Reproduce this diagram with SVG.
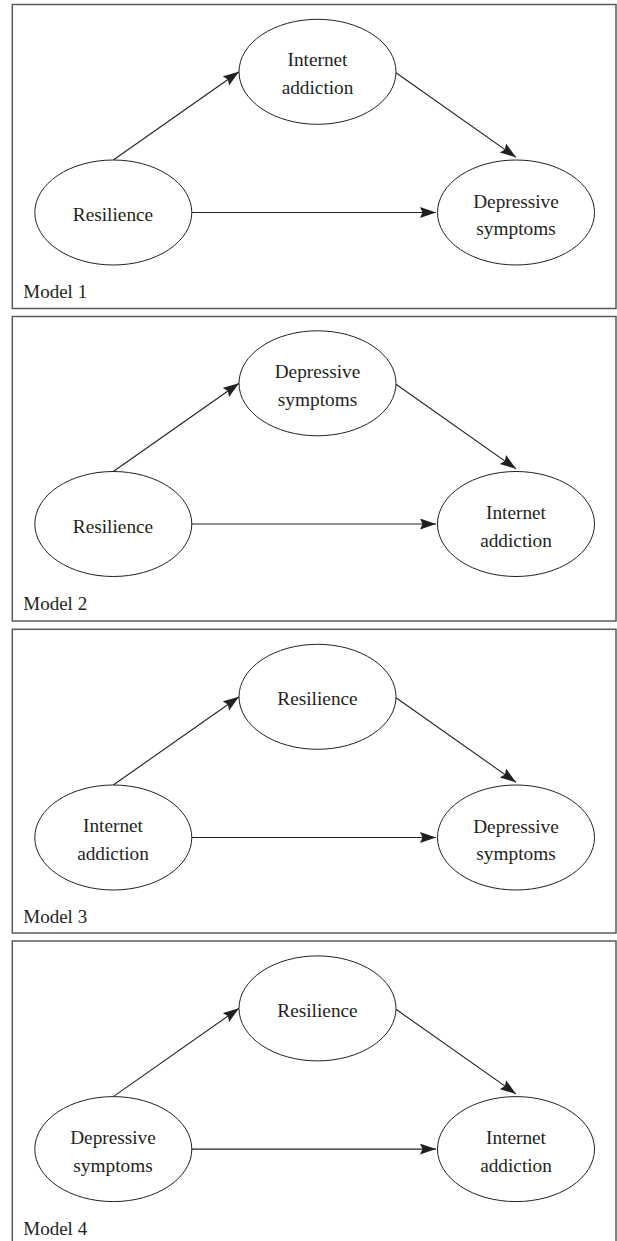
<svg xmlns="http://www.w3.org/2000/svg" width="617" height="1241" viewBox="0 0 617 1241">
<style>
.panel{fill:#fff;stroke:#5a5a5a;stroke-width:1.5}
.node{fill:#fff;stroke:#231f20;stroke-width:1}
.lbl{font-family:"Liberation Serif","Times New Roman",serif;font-size:19.3px;fill:#231f20;text-anchor:middle}
.model{font-family:"Liberation Serif","Times New Roman",serif;font-size:19px;fill:#231f20}
.conn{stroke:#231f20;stroke-width:1.1;fill:none;marker-end:url(#ah)}
</style>
<defs>
<marker id="ah" markerUnits="userSpaceOnUse" markerWidth="18" markerHeight="12" refX="16" refY="5.5" orient="auto">
<path d="M0,0 L16,5.5 L0,11 L2.5,5.5 Z" fill="#231f20"/>
</marker>
</defs>
<rect width="617" height="1241" fill="#fff"/>

<!-- Model 1 -->
<g id="model1" transform="translate(0,0)">
<rect class="panel" x="12.3" y="4.5" width="603.7" height="304"/>
<g id="m1-connectors">
<line class="conn" x1="113.3" y1="160" x2="239" y2="71.7"/>
<line class="conn" x1="396" y1="72.7" x2="516" y2="157.3"/>
<line class="conn" x1="191.7" y1="212.5" x2="436" y2="212.5"/>
</g>
<g id="m1-internet"><ellipse class="node" cx="317.5" cy="71.8" rx="78.5" ry="52.5"/><text class="lbl" x="317.5" y="65.7">Internet</text><text class="lbl" x="317.5" y="94">addiction</text></g>
<g id="m1-resilience"><ellipse class="node" cx="113.3" cy="212.5" rx="78.5" ry="52.5"/><text class="lbl" x="113" y="221">Resilience</text></g>
<g id="m1-depressive"><ellipse class="node" cx="516" cy="212.5" rx="78.5" ry="52.5"/><text class="lbl" x="516" y="207.5">Depressive</text><text class="lbl" x="516" y="235">symptoms</text></g>
<text class="model" x="23.3" y="297.7">Model 1</text>
</g>

<!-- Model 2 -->
<g id="model2" transform="translate(0,311.5)">
<rect class="panel" x="12.3" y="5" width="603.7" height="304.5"/>
<g id="m2-connectors">
<line class="conn" x1="113.3" y1="160" x2="239" y2="71.7"/>
<line class="conn" x1="396" y1="72.7" x2="516" y2="157.3"/>
<line class="conn" x1="191.7" y1="212.5" x2="436" y2="212.5"/>
</g>
<g id="m2-depressive"><ellipse class="node" cx="317.5" cy="71.8" rx="78.5" ry="52.5"/><text class="lbl" x="317.5" y="66.5">Depressive</text><text class="lbl" x="317.5" y="94">symptoms</text></g>
<g id="m2-resilience"><ellipse class="node" cx="113.3" cy="212.5" rx="78.5" ry="52.5"/><text class="lbl" x="113" y="221">Resilience</text></g>
<g id="m2-internet"><ellipse class="node" cx="516" cy="212.5" rx="78.5" ry="52.5"/><text class="lbl" x="516" y="207">Internet</text><text class="lbl" x="516" y="235">addiction</text></g>
<text class="model" x="23.3" y="298.7">Model 2</text>
</g>

<!-- Model 3 -->
<g id="model3" transform="translate(0,625)">
<rect class="panel" x="12.3" y="4.3" width="603.7" height="303.7"/>
<g id="m3-connectors">
<line class="conn" x1="113.3" y1="160" x2="239" y2="71.7"/>
<line class="conn" x1="396" y1="72.7" x2="516" y2="157.3"/>
<line class="conn" x1="191.7" y1="212.5" x2="436" y2="212.5"/>
</g>
<g id="m3-resilience"><ellipse class="node" cx="317.5" cy="71.8" rx="78.5" ry="52.5"/><text class="lbl" x="317.5" y="80">Resilience</text></g>
<g id="m3-internet"><ellipse class="node" cx="113.3" cy="212.5" rx="78.5" ry="52.5"/><text class="lbl" x="113" y="207">Internet</text><text class="lbl" x="113" y="235">addiction</text></g>
<g id="m3-depressive"><ellipse class="node" cx="516" cy="212.5" rx="78.5" ry="52.5"/><text class="lbl" x="516" y="207.5">Depressive</text><text class="lbl" x="516" y="235">symptoms</text></g>
<text class="model" x="23.3" y="298">Model 3</text>
</g>

<!-- Model 4 -->
<g id="model4" transform="translate(0,936.6)">
<rect class="panel" x="12.3" y="4.4" width="603.7" height="310"/>
<g id="m4-connectors">
<line class="conn" x1="113.3" y1="160" x2="239" y2="71.7"/>
<line class="conn" x1="396" y1="72.7" x2="516" y2="157.3"/>
<line class="conn" x1="191.7" y1="212.5" x2="436" y2="212.5"/>
</g>
<g id="m4-resilience"><ellipse class="node" cx="317.5" cy="71.8" rx="78.5" ry="52.5"/><text class="lbl" x="317.5" y="80">Resilience</text></g>
<g id="m4-depressive"><ellipse class="node" cx="113.3" cy="212.5" rx="78.5" ry="52.5"/><text class="lbl" x="113" y="207.5">Depressive</text><text class="lbl" x="113" y="235">symptoms</text></g>
<g id="m4-internet"><ellipse class="node" cx="516" cy="212.5" rx="78.5" ry="52.5"/><text class="lbl" x="516" y="207">Internet</text><text class="lbl" x="516" y="235">addiction</text></g>
<text class="model" x="23.3" y="298.4">Model 4</text>
</g>
</svg>
